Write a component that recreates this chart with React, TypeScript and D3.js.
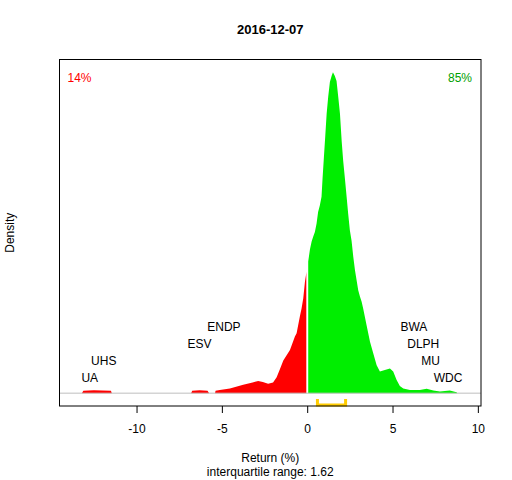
import { useEffect, useRef } from 'react';
import * as d3 from 'd3';

// density of daily returns
const RET = [
  -13.2, -13.12, -12.5, -11.5, -11.45, -6.8, -6.74, -6.3, -5.84, -5.75, -5.4, -5.37, -5.12, -4.53,
  -3.75, -3.2, -2.87, -2.6, -2.29, -2.0, -1.79, -1.6, -1.4, -1.01, -0.72, -0.62, -0.43, -0.33, -0.23,
  -0.13, -0.04, 0.06, 0.16, 0.26, 0.35, 0.45, 0.55, 0.64, 0.74, 0.84, 0.9, 0.98, 1.06, 1.14, 1.23,
  1.33, 1.43, 1.51, 1.62, 1.72, 1.82, 1.92, 2.02, 2.11, 2.21, 2.31, 2.4, 2.5, 2.6, 2.7, 2.8, 2.9,
  2.99, 3.09, 3.19, 3.28, 3.48, 3.68, 3.87, 4.07, 4.26, 4.55, 4.85, 5.04, 5.24, 5.43, 5.63, 6.02,
  6.6, 7.0, 7.39, 7.78, 8.36, 8.75, 8.8,
];
const DENS = [
  0, 0.003, 0.0035, 0.003, 0, 0, 0.003, 0.0035, 0.003, 0, 0, 0.003, 0.004, 0.006,
  0.0104, 0.0135, 0.0154, 0.014, 0.0118, 0.0135, 0.02, 0.03, 0.041, 0.054, 0.071, 0.075, 0.096, 0.106, 0.119,
  0.14, 0.152, 0.165, 0.18, 0.19, 0.196, 0.202, 0.2125, 0.227, 0.235, 0.246, 0.269, 0.296, 0.3225, 0.35, 0.371,
  0.39, 0.3975, 0.402, 0.3975, 0.391, 0.371, 0.35, 0.316, 0.291, 0.269, 0.246, 0.225, 0.204, 0.191, 0.171, 0.154, 0.141,
  0.129, 0.121, 0.1145, 0.106, 0.085, 0.0645, 0.05, 0.035, 0.027, 0.029, 0.031, 0.027, 0.0166, 0.009, 0.006, 0.004,
  0.004, 0.0054, 0.0033, 0.002, 0.0033, 0.0013, 0,
];

const XLIM = [-13.6, 9.27];
const X_TICKS = [-10, -5, 0, 5, 10];

// worst / best names, stacked from the baseline up
const LOSERS = ['UA', 'UHS', 'ESV', 'ENDP'];
const LOSER_RET = [-12.74, -11.92, -6.31, -4.88];
const WINNERS = ['WDC', 'MU', 'DLPH', 'BWA'];
const WINNER_RET = [8.25, 7.23, 6.8, 6.25];

const QUARTILES = [0.6, 2.25];
const IQR_TEXT = '1.62';
const PCT_DOWN = '14%';
const PCT_UP = '85%';
const TITLE = '2016-12-07';

const W = 512;
const H = 480;
const BOX = { left: 59.5, right: 481, top: 59.5, bottom: 406 };
const FONT = 'Liberation Sans, Arial, sans-serif';
const RED = '#ff0000';
const GREEN = '#00ee00';

function expand([a, b]: number[]) {
  const pad = (b - a) * 0.04;
  return [a - pad, b + pad];
}

export default function App() {
  const axisRef = useRef<SVGGElement>(null);

  const pts = RET.map((r, i) => ({ r, d: DENS[i] }));
  const yMax = d3.max(DENS) ?? 1;

  const x = d3.scaleLinear().domain(expand(XLIM)).range([BOX.left, BOX.right]);
  const y = d3.scaleLinear().domain(expand([0, yMax])).range([BOX.bottom, BOX.top]);

  const area = d3
    .area<{ r: number; d: number }>()
    .x((p) => x(p.r))
    .y0(y(0))
    .y1((p) => y(p.d));

  const neg = pts.filter((p) => p.r < 0);
  const pos = pts.filter((p) => p.r > 0);

  useEffect(() => {
    const g = axisRef.current;
    if (!g) return;
    const axis = d3.axisBottom(x).tickValues(X_TICKS).tickFormat((d) => String(d)).tickSize(7).tickPadding(11);
    d3.select(g)
      .call(axis)
      .call((sel) => {
        sel.select('.domain').remove();
        sel.selectAll('text').attr('font-family', FONT).attr('font-size', 12).attr('fill', '#000');
        sel.selectAll('line').attr('stroke', '#000');
      });
  }, []);

  const y0 = y(0);
  const rowGap = 16.8;

  return (
    <svg
      width={W}
      height={H}
      style={{ position: 'absolute', left: 0, top: 0, background: '#fff' }}
      fontFamily={FONT}
    >
      <rect width={W} height={H} fill="#fff" />

      <text x={(BOX.left + BOX.right) / 2} y={34} textAnchor="middle" fontSize={13} fontWeight="bold">
        {TITLE}
      </text>

      {/* Density fill, split at zero */}
      <path d={area(neg) ?? ''} fill={RED} />
      <path d={area(pos) ?? ''} fill={GREEN} />
      <line x1={x(0)} x2={x(0)} y1={BOX.top} y2={y0} stroke="#fff" strokeWidth={1.2} />

      {/* Zero baseline */}
      <line x1={BOX.left} x2={BOX.right} y1={y0} y2={y0} stroke="#bebebe" strokeWidth={1} />

      {/* Interquartile bracket */}
      <path
        d={`M${x(QUARTILES[0])},399 V405 H${x(QUARTILES[1])} V399`}
        fill="none"
        stroke="#ffcc00"
        strokeWidth={3}
      />

      {/* Extreme names */}
      {LOSERS.map((name, i) => (
        <text key={name} x={x(LOSER_RET[i])} y={y0 - 15.6 - i * rowGap} dy="0.35em" textAnchor="middle" fontSize={12}>
          {name}
        </text>
      ))}
      {WINNERS.map((name, i) => (
        <text key={name} x={x(WINNER_RET[i])} y={y0 - 15.6 - i * rowGap} dy="0.35em" textAnchor="middle" fontSize={12}>
          {name}
        </text>
      ))}

      <text x={67.5} y={82} fontSize={12} fill={RED}>
        {PCT_DOWN}
      </text>
      <text x={472} y={82} fontSize={12} fill="#00a000" textAnchor="end">
        {PCT_UP}
      </text>

      {/* Frame */}
      <rect
        x={BOX.left}
        y={BOX.top}
        width={BOX.right - BOX.left}
        height={BOX.bottom - BOX.top}
        fill="none"
        stroke="#000"
        strokeWidth={1}
      />

      <g ref={axisRef} transform={`translate(0, ${BOX.bottom})`} />

      <text x={(BOX.left + BOX.right) / 2} y={461.7} textAnchor="middle" fontSize={12}>
        Return (%)
      </text>
      <text x={(BOX.left + BOX.right) / 2} y={476} textAnchor="middle" fontSize={12}>
        interquartile range: {IQR_TEXT}
      </text>
      <text
        transform={`translate(14, ${(BOX.top + BOX.bottom) / 2}) rotate(-90)`}
        textAnchor="middle"
        fontSize={12}
      >
        Density
      </text>
    </svg>
  );
}
